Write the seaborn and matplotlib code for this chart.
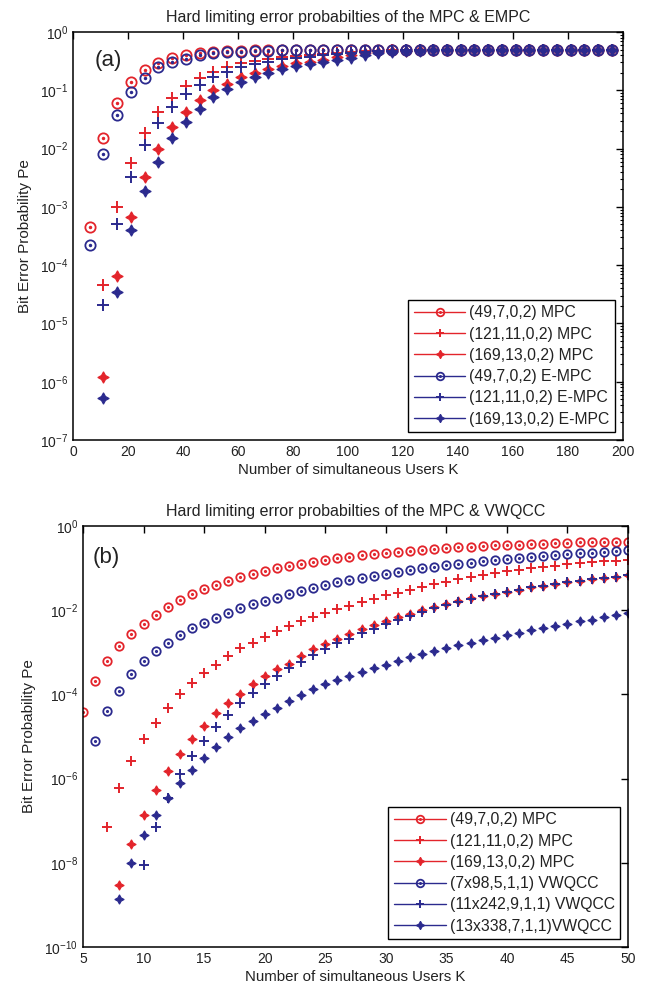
import numpy as np
import pandas as pd
import seaborn as sns
import matplotlib
matplotlib.use("Agg")
import matplotlib.pyplot as plt
from matplotlib.path import Path
from matplotlib.lines import Line2D
from matplotlib.ticker import FixedLocator, NullLocator, LogLocator, NullFormatter

nan = np.nan

# ---------------- panel (a): MPC vs E-MPC, K = 6, 11, ..., 196 ----------------
users_a = [6, 11, 16, 21, 26, 31, 36, 41, 46, 51,
           56, 61, 66, 71, 76, 81, 86, 91, 96, 101,
           106, 111, 116, 121, 126, 131, 136, 141, 146, 151,
           156, 161, 166, 171, 176, 181, 186, 191, 196]

mpc_49_a = [4.5e-4, 0.015, 0.061, 0.14, 0.22, 0.29, 0.36, 0.40, 0.43, 0.45,
            0.47, 0.48, 0.49, 0.49, 0.50, 0.50, 0.50, 0.50, 0.50, 0.50,
            0.50, 0.50, 0.50, 0.50, 0.50, 0.50, 0.50, 0.50, 0.50, 0.50,
            0.50, 0.50, 0.50, 0.50, 0.50, 0.50, 0.50, 0.50, 0.50]
mpc_121_a = [nan, 4.5e-5, 1.0e-3, 5.6e-3, 0.0186, 0.042, 0.074, 0.12, 0.16, 0.21,
             0.25, 0.29, 0.32, 0.35, 0.37, 0.39, 0.41, 0.42, 0.44, 0.46,
             0.47, 0.48, 0.49, 0.50, 0.50, 0.50, 0.50, 0.50, 0.50, 0.50,
             0.50, 0.50, 0.50, 0.50, 0.50, 0.50, 0.50, 0.50, 0.50]
mpc_169_a = [nan, 1.2e-6, 6.5e-5, 6.7e-4, 3.2e-3, 0.010, 0.023, 0.042, 0.067, 0.10,
             0.13, 0.17, 0.20, 0.23, 0.26, 0.29, 0.31, 0.33, 0.37, 0.40,
             0.43, 0.45, 0.47, 0.48, 0.49, 0.50, 0.50, 0.50, 0.50, 0.50,
             0.50, 0.50, 0.50, 0.50, 0.50, 0.50, 0.50, 0.50, 0.50]
empc_49_a = [2.2e-4, 8.0e-3, 0.038, 0.093, 0.16, 0.25, 0.31, 0.35, 0.40, 0.43,
             0.45, 0.46, 0.47, 0.48, 0.49, 0.49, 0.50, 0.50, 0.50, 0.50,
             0.50, 0.50, 0.50, 0.50, 0.50, 0.50, 0.50, 0.50, 0.50, 0.50,
             0.50, 0.50, 0.50, 0.50, 0.50, 0.50, 0.50, 0.50, 0.50]
empc_121_a = [nan, 2.1e-5, 5.1e-4, 3.3e-3, 0.0117, 0.027, 0.052, 0.088, 0.125, 0.17,
              0.21, 0.25, 0.28, 0.31, 0.34, 0.36, 0.38, 0.40, 0.42, 0.44,
              0.46, 0.47, 0.48, 0.49, 0.50, 0.50, 0.50, 0.50, 0.50, 0.50,
              0.50, 0.50, 0.50, 0.50, 0.50, 0.50, 0.50, 0.50, 0.50]
empc_169_a = [nan, 5.3e-7, 3.4e-5, 4.0e-4, 1.9e-3, 6.0e-3, 0.015, 0.029, 0.048, 0.077,
              0.107, 0.14, 0.17, 0.20, 0.23, 0.26, 0.28, 0.30, 0.33, 0.36,
              0.40, 0.43, 0.45, 0.47, 0.48, 0.49, 0.50, 0.50, 0.50, 0.50,
              0.50, 0.50, 0.50, 0.50, 0.50, 0.50, 0.50, 0.50, 0.50]

labels_a = ["(49,7,0,2) MPC", "(121,11,0,2) MPC", "(169,13,0,2) MPC",
            "(49,7,0,2) E-MPC", "(121,11,0,2) E-MPC", "(169,13,0,2) E-MPC"]

# ---------------- panel (b): MPC vs VWQCC, K = 5 ... 50 ----------------
users_b = [5, 6, 7, 8, 9, 10, 11, 12, 13, 14, 15, 16, 17, 18, 19, 20,
           21, 22, 23, 24, 25, 26, 27, 28, 29, 30, 31, 32, 33, 34, 35,
           36, 37, 38, 39, 40, 41, 42, 43, 44, 45, 46, 47, 48, 49, 50]

mpc_49_b = [3.9e-5, 2.1e-4, 6.2e-4, 1.38e-3, 2.7e-3, 4.8e-3, 7.8e-3, 0.012, 0.0174, 0.024,
            0.0316, 0.040, 0.050, 0.060, 0.072, 0.085, 0.100, 0.112, 0.126, 0.141,
            0.155, 0.170, 0.186, 0.200, 0.214, 0.229, 0.245, 0.257, 0.269, 0.282,
            0.295, 0.309, 0.324, 0.331, 0.347, 0.355, 0.363, 0.372, 0.380, 0.389,
            0.398, 0.407, 0.412, 0.417, 0.422, 0.427]
mpc_121_b = [nan, nan, 7.2e-8, 6.0e-7, 2.6e-6, 8.5e-6, 2.1e-5, 4.8e-5, 1.02e-4, 1.9e-4,
             3.16e-4, 5.1e-4, 8.1e-4, 1.26e-3, 1.7e-3, 2.3e-3, 3.16e-3, 4.2e-3, 5.4e-3, 6.8e-3,
             8.5e-3, 0.0105, 0.0129, 0.0155, 0.0186, 0.0224, 0.0263, 0.0309, 0.0363, 0.0417,
             0.0479, 0.055, 0.0617, 0.0692, 0.0759, 0.0832, 0.0912, 0.100, 0.107, 0.115,
             0.123, 0.132, 0.138, 0.145, 0.151, 0.158]
mpc_169_b = [nan, nan, nan, 3.0e-9, 2.75e-8, 1.38e-7, 5.5e-7, 1.55e-6, 3.9e-6, 8.9e-6,
             1.78e-5, 3.6e-5, 6.3e-5, 1.05e-4, 1.74e-4, 2.75e-4, 4.0e-4, 5.4e-4, 8.1e-4, 1.17e-3,
             1.58e-3, 2.1e-3, 2.7e-3, 3.5e-3, 4.4e-3, 5.5e-3, 6.8e-3, 8.3e-3, 0.0100, 0.0120,
             0.0141, 0.0166, 0.0191, 0.0219, 0.0245, 0.0275, 0.0309, 0.0347, 0.038, 0.0417,
             0.0457, 0.050, 0.055, 0.0589, 0.063, 0.068]
vwqcc_7_b = [nan, 7.8e-6, 4.0e-5, 1.2e-4, 3.0e-4, 6.2e-4, 1.07e-3, 1.7e-3, 2.6e-3, 3.7e-3,
             5.1e-3, 6.6e-3, 8.7e-3, 0.0112, 0.0138, 0.0166, 0.020, 0.024, 0.0282, 0.0331,
             0.0389, 0.0457, 0.0525, 0.0589, 0.066, 0.074, 0.081, 0.089, 0.098, 0.107,
             0.117, 0.126, 0.135, 0.145, 0.155, 0.166, 0.174, 0.186, 0.195, 0.204,
             0.214, 0.224, 0.234, 0.245, 0.251, 0.263]
vwqcc_11_b = [nan, nan, nan, nan, nan, 8.7e-9, 7.1e-8, 3.5e-7, 1.26e-6, 3.4e-6,
              7.9e-6, 1.66e-5, 3.3e-5, 6.3e-5, 1.1e-4, 1.74e-4, 2.75e-4, 4.2e-4, 6.0e-4, 8.7e-4,
              1.2e-3, 1.62e-3, 2.1e-3, 2.8e-3, 3.6e-3, 4.7e-3, 5.9e-3, 7.4e-3, 9.1e-3, 0.0112,
              0.0135, 0.0158, 0.0186, 0.0214, 0.0245, 0.0275, 0.0309, 0.0347, 0.038, 0.0417,
              0.0457, 0.050, 0.055, 0.0589, 0.063, 0.068]
vwqcc_13_b = [nan, nan, nan, 1.35e-9, 9.8e-9, 4.5e-8, 1.4e-7, 3.5e-7, 7.9e-7, 1.58e-6,
              3.1e-6, 5.6e-6, 9.5e-6, 1.55e-5, 2.3e-5, 3.5e-5, 4.8e-5, 6.9e-5, 9.5e-5, 1.32e-4,
              1.74e-4, 2.2e-4, 2.75e-4, 3.4e-4, 4.2e-4, 5.1e-4, 6.3e-4, 7.6e-4, 9.1e-4, 1.07e-3,
              1.26e-3, 1.48e-3, 1.7e-3, 1.95e-3, 2.24e-3, 2.57e-3, 2.95e-3, 3.4e-3, 3.8e-3, 4.3e-3,
              4.8e-3, 5.4e-3, 6.0e-3, 6.8e-3, 7.6e-3, 8.7e-3]

labels_b = ["(49,7,0,2) MPC", "(121,11,0,2) MPC", "(169,13,0,2) MPC",
            "(7x98,5,1,1) VWQCC", "(11x242,9,1,1) VWQCC", "(13x338,7,1,1)VWQCC"]

# ---------------- styling ----------------
sns.set_theme(style="white")
plt.rcParams["font.family"] = ["Liberation Sans", "DejaVu Sans"]
plt.rcParams["mathtext.fontset"] = "custom"
plt.rcParams["mathtext.rm"] = "Liberation Sans"
plt.rcParams["mathtext.it"] = "Liberation Sans:italic"
plt.rcParams["mathtext.bf"] = "Liberation Sans:bold"

RED = "#e3242b"
BLUE = "#2b2a8e"
TEXT = "#222222"

# open ring with a centre dot
_circ = Path.unit_circle()
RING_DOT = Path.make_compound_path(_circ, Path(_circ.vertices * 0.16, _circ.codes))
STAR4 = (4, 1, 0)


def style_for(kind, small):
    scale = 0.82 if small else 1.0
    if kind == "ring":
        return dict(marker=RING_DOT, markersize=7.4 * scale, markerfacecolor="none",
                    markeredgewidth=1.3)
    if kind == "plus":
        return dict(marker="+", markersize=8.6 * scale, markeredgewidth=1.4)
    return dict(marker=STAR4, markersize=8.2 * scale, markeredgewidth=0.8)


kinds = ["ring", "plus", "star", "ring", "plus", "star"]
colors = [RED, RED, RED, BLUE, BLUE, BLUE]


def draw_panel(ax, users, series, labels, small):
    ax.set_yscale("log")
    for vals, lab, kind, col in zip(series, labels, kinds, colors):
        df = pd.DataFrame({"K": users, "Pe": vals}).dropna()
        st = style_for(kind, small)
        sns.lineplot(data=df, x="K", y="Pe", ax=ax, color=col, linestyle="none",
                     markeredgecolor=col, estimator=None, errorbar=None,
                     legend=False, **st)
    handles = []
    for kind, col in zip(kinds, colors):
        st = style_for(kind, True)
        st["markersize"] *= 0.9
        handles.append(Line2D([0], [0], color=col, lw=1.0, markeredgecolor=col, **st))
    leg = ax.legend(handles, labels, loc="lower right", fontsize=11.3, frameon=True,
                    fancybox=False, edgecolor="black", framealpha=1, handlelength=3.3,
                    handletextpad=0.25, labelspacing=0.4, borderpad=0.35,
                    borderaxespad=0.5)
    leg.get_frame().set_linewidth(1.0)
    for t in leg.get_texts():
        t.set_color(TEXT)
    ax.set_ylabel("Bit Error Probability Pe", fontsize=11, color=TEXT, labelpad=6)
    ax.set_xlabel("Number of simultaneous Users K", fontsize=10.8, color=TEXT, labelpad=3)
    ax.tick_params(which="both", direction="in", top=True, right=True, colors="black",
                   labelcolor=TEXT, labelsize=10)
    ax.tick_params(which="major", length=5, width=1.0)
    ax.tick_params(which="minor", length=2.5, width=0.8)
    for sp in ax.spines.values():
        sp.set_color("black")
        sp.set_linewidth(1.1)


fig = plt.figure(figsize=(6.52, 9.91), dpi=100)
fig.patch.set_facecolor("white")

ax_a = fig.add_axes([0.112, 0.556, 0.8435, 0.4117])
draw_panel(ax_a, users_a,
           [mpc_49_a, mpc_121_a, mpc_169_a, empc_49_a, empc_121_a, empc_169_a],
           labels_a, small=False)
ax_a.set_xlim(0, 200)
ax_a.set_ylim(1e-7, 1)
ax_a.xaxis.set_major_locator(FixedLocator(list(range(0, 201, 20))))
ax_a.yaxis.set_major_locator(LogLocator(base=10, numticks=20))
ax_a.yaxis.set_minor_locator(LogLocator(base=10, subs=np.arange(2, 10), numticks=20))
ax_a.yaxis.set_minor_formatter(NullFormatter())
ax_a.set_title("Hard limiting error probabilties of the MPC & EMPC", fontsize=11.5,
               color=TEXT, pad=7)
ax_a.text(0.04, 0.93, "(a)", transform=ax_a.transAxes, fontsize=16, color=TEXT,
          va="center", ha="left")

ax_b = fig.add_axes([0.1273, 0.0444, 0.8359, 0.4248])
draw_panel(ax_b, users_b,
           [mpc_49_b, mpc_121_b, mpc_169_b, vwqcc_7_b, vwqcc_11_b, vwqcc_13_b],
           labels_b, small=True)
ax_b.set_xlim(5, 50)
ax_b.set_ylim(1e-10, 1)
ax_b.xaxis.set_major_locator(FixedLocator(list(range(5, 51, 5))))
ax_b.yaxis.set_major_locator(FixedLocator([1e-10, 1e-8, 1e-6, 1e-4, 1e-2, 1]))
ax_b.yaxis.set_minor_locator(NullLocator())
ax_b.set_title("Hard limiting error probabilties of the MPC & VWQCC", fontsize=11.5,
               color=TEXT, pad=7)
ax_b.text(0.018, 0.926, "(b)", transform=ax_b.transAxes, fontsize=16, color=TEXT,
          va="center", ha="left")

fig.savefig("out.png", dpi=100, facecolor="white")
